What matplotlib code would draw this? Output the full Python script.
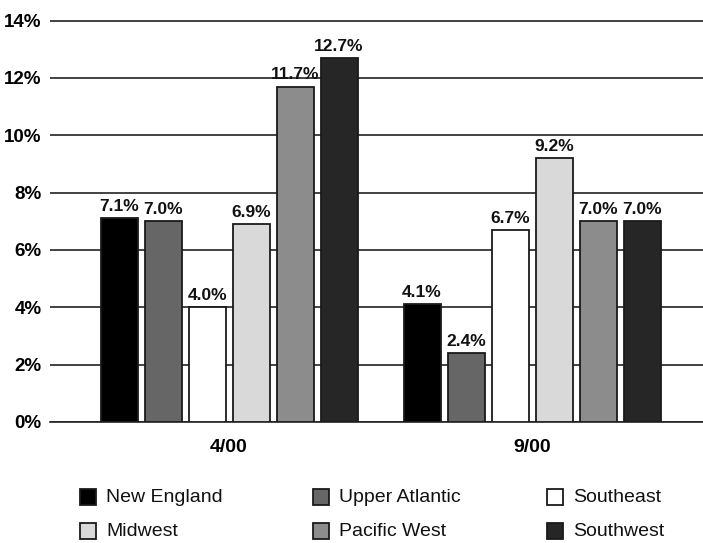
import matplotlib
matplotlib.use("Agg")
import matplotlib.pyplot as plt
import numpy as np
from matplotlib.patches import Rectangle

plt.rcParams['font.family'] = ['Liberation Sans', 'DejaVu Sans']

periods = ["4/00", "9/00"]
regions = ["New England", "Upper Atlantic", "Southeast",
           "Midwest", "Pacific West", "Southwest"]
values = {
    "New England":    [7.1, 4.1],
    "Upper Atlantic": [7.0, 2.4],
    "Southeast":      [4.0, 6.7],
    "Midwest":        [6.9, 9.2],
    "Pacific West":   [11.7, 7.0],
    "Southwest":      [12.7, 7.0],
}
colors = ["#000000", "#666666", "#ffffff", "#d9d9d9", "#8c8c8c", "#262626"]
yticks = [0, 2, 4, 6, 8, 10, 12, 14]

W, H = 703, 543
fig = plt.figure(figsize=(W / 100, H / 100), dpi=100)
ax = fig.add_axes([50 / W, 1 - 422 / H, 653 / W, 402 / H])

step = 44 / 303
width = 37 / 303
x = np.arange(len(periods))

for i, (reg, col) in enumerate(zip(regions, colors)):
    pos = x + (i - 2.5) * step
    bars = ax.bar(pos, values[reg], width=width, color=col,
                  edgecolor="#1a1a1a", linewidth=1.3, zorder=3)
    for b, v in zip(bars, values[reg]):
        ax.annotate(f"{v:.1f}%", (b.get_x() + b.get_width() / 2, v),
                    xytext=(0, 3), textcoords="offset points",
                    ha="center", va="bottom", fontsize=12.5,
                    fontweight="bold", color="#111111")

ax.set_xlim(-0.591, 1.564)
ax.set_ylim(0, 14.02)
ax.set_yticks(yticks)
ax.set_yticklabels([f"{t}%" for t in yticks], fontsize=13.5, fontweight="bold")
ax.yaxis.grid(True, color="#222222", linewidth=1.2, zorder=0)
ax.tick_params(axis="y", length=0, pad=6)
ax.tick_params(axis="x", length=0, pad=12)
ax.set_xticks(x)
ax.set_xticklabels(periods, fontsize=14, fontweight="bold")
for s in ["top", "right", "left"]:
    ax.spines[s].set_visible(False)
ax.spines["bottom"].set_color("#222222")
ax.spines["bottom"].set_linewidth(1.2)

# legend: three columns, two rows, laid out in figure pixels
col_x = [80, 313, 547]
row_y = [497, 531]
box = 16
for i, (reg, col) in enumerate(zip(regions, colors)):
    cx = col_x[i % 3]
    cy = row_y[i // 3]
    fig.patches.append(Rectangle(((cx) / W, 1 - (cy + box / 2) / H), box / W, box / H,
                                 transform=fig.transFigure, facecolor=col,
                                 edgecolor="#1a1a1a", linewidth=1.3))
    fig.text((cx + 26) / W, 1 - cy / H, reg, fontsize=14, ha="left", va="center",
             color="#111111")

fig.savefig("out.png", dpi=100)
